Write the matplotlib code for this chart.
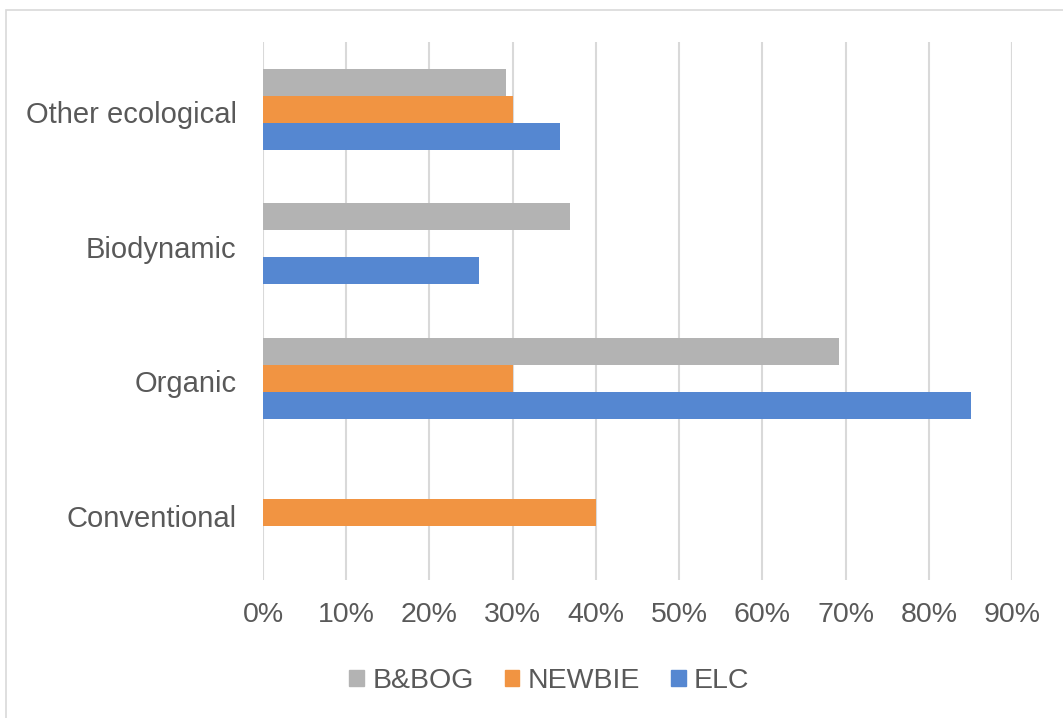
import matplotlib.pyplot as plt
from matplotlib.patches import Patch, Rectangle
from matplotlib.transforms import ScaledTranslation
import numpy as np

plt.rcParams['font.family'] = ['Liberation Sans', 'DejaVu Sans']

# Kategorie (od dołu) i udziały dla każdej grupy
categories = ['Conventional', 'Organic', 'Biodynamic', 'Other ecological']
elc = [0.0, 0.851, 0.260, 0.357]
newbie = [0.400, 0.300, 0.0, 0.300]
bbog = [0.0, 0.692, 0.369, 0.292]
x_ticks = [0.0, 0.1, 0.2, 0.3, 0.4, 0.5, 0.6, 0.7, 0.8, 0.9]

TEXT = '#595959'
GRID = '#d9d9d9'

fig = plt.figure(figsize=(10.63, 7.18), dpi=100)
ax = fig.add_axes([263 / 1063, 138 / 718, 749 / 1063, 538 / 718])

y = np.arange(len(categories))
h = 0.2
ax.barh(y - h, elc, height=h, color='#5587D1', label='ELC', zorder=3)
ax.barh(y, newbie, height=h, color='#F19442', label='NEWBIE', zorder=3)
ax.barh(y + h, bbog, height=h, color='#B3B3B3', label='B&BOG', zorder=3)

ax.set_ylim(-0.5, len(categories) - 0.5)
ax.set_xlim(0, 0.9)
ax.set_yticks(y)
ax.set_yticklabels(categories, fontsize=21, va='center_baseline')
ax.set_xticks(x_ticks)
ax.set_xticklabels([f'{int(round(t * 100))}%' for t in x_ticks], fontsize=20.5)
ax.tick_params(axis='both', length=0, labelcolor=TEXT)
ax.tick_params(axis='y', pad=19)
ax.tick_params(axis='x', pad=16)
# etykiety kategorii lekko w dół
shift = ScaledTranslation(0, -0.03, fig.dpi_scale_trans)
for lbl in ax.get_yticklabels():
    lbl.set_transform(lbl.get_transform() + shift)
ax.xaxis.grid(True, color=GRID, linewidth=1.5, zorder=0)
ax.set_axisbelow(True)
for s in ax.spines.values():
    s.set_visible(False)
ax.axvline(0.9, color=GRID, linewidth=1.5, zorder=0)

# legenda w kolejności B&BOG, NEWBIE, ELC
handles = [Patch(color='#B3B3B3', label='B&BOG'),
           Patch(color='#F19442', label='NEWBIE'),
           Patch(color='#5587D1', label='ELC')]
leg = fig.legend(handles=handles, loc='center', bbox_to_anchor=(549.5 / 1063, 37 / 718),
                 ncol=3, frameon=False, fontsize=20.5, handlelength=0.5, handleheight=0.5,
                 handletextpad=0.3, columnspacing=1.1)
for t in leg.get_texts():
    t.set_color(TEXT)

# ramka obszaru wykresu
fig.patches.append(Rectangle((6 / 1063, -0.05), 1.1, 1 - 10 / 718 + 0.05,
                             transform=fig.transFigure, fill=False,
                             edgecolor=GRID, linewidth=1.2))

fig.savefig('out.png', dpi=100)
